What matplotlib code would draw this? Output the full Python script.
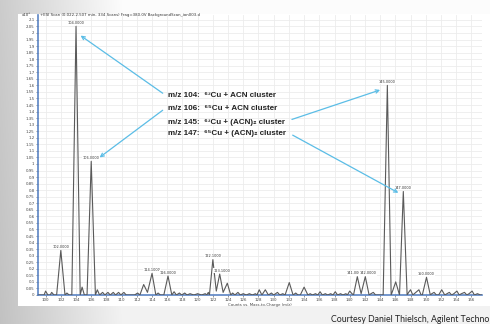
import numpy as np
import matplotlib
matplotlib.use("Agg")
import matplotlib.pyplot as plt
from matplotlib.patches import Rectangle

# ---- data (counts in units of 1e5) ----
mz = [99.0, 99.8, 100.0, 100.3, 100.6, 100.8, 101.1, 101.45, 102.0, 102.55,
      102.8, 103.1, 103.45, 104.0, 104.55, 104.8, 105.1, 105.45, 106.0, 106.55,
      106.8, 107.1, 107.5, 107.8, 108.2, 108.5, 108.9, 109.2, 109.6, 109.9,
      110.3, 110.6, 111.0, 111.7, 112.1, 112.4, 112.9, 113.4, 114.0, 114.5,
      114.8, 115.1, 115.55, 116.1, 116.6, 116.9, 117.2, 117.6, 117.9, 118.3,
      118.6, 119.0, 119.5, 120.0, 120.5, 121.0, 121.2, 121.4, 121.55, 122.0,
      122.45, 122.9, 123.35, 123.9, 124.35, 124.6, 124.9, 125.3, 125.6, 126.0,
      126.4, 126.8, 127.2, 127.6, 127.8, 128.1, 128.45, 128.9, 129.3, 129.7,
      130.0, 130.5, 130.8, 131.2, 131.5, 132.05, 132.55, 132.9, 133.2, 133.5,
      134.0, 134.5, 134.8, 135.1, 135.5, 135.8, 136.1, 136.4, 136.8, 137.1,
      137.5, 137.8, 138.1, 138.4, 138.8, 139.1, 139.5, 139.7, 140.0, 140.3,
      140.5, 141.0, 141.5, 142.05, 142.55, 142.8, 143.1, 143.4, 144.0, 144.4,
      144.95, 145.45, 145.7, 146.05, 146.35, 146.55, 147.05, 147.55, 147.75, 148.0,
      148.3, 148.7, 149.1, 149.4, 149.55, 150.1, 150.6, 150.8, 151.1, 151.4,
      151.7, 152.1, 152.5, 152.8, 153.1, 153.4, 153.7, 154.1, 154.4, 154.7,
      155.1, 155.4, 155.7, 156.1, 156.4, 156.8, 157.2, 157.4]
counts = [0.0, 0.0, 0.03, 0.0, 0.0, 0.02, 0.0, 0.0, 0.34, 0.0,
          0.015, 0.0, 0.0, 2.05, 0.0, 0.06, 0.0, 0.0, 1.02, 0.0,
          0.04, 0.0, 0.02, 0.0, 0.02, 0.0, 0.02, 0.0, 0.02, 0.0,
          0.02, 0.0, 0.0, 0.0, 0.015, 0.0, 0.08, 0.02, 0.165, 0.0,
          0.015, 0.0, 0.0, 0.145, 0.0, 0.025, 0.0, 0.015, 0.0, 0.015,
          0.0, 0.01, 0.0, 0.01, 0.0, 0.01, 0.0, 0.02, 0.0, 0.27,
          0.03, 0.16, 0.02, 0.09, 0.0, 0.015, 0.0, 0.02, 0.0, 0.01,
          0.0, 0.01, 0.0, 0.01, 0.0, 0.04, 0.0, 0.04, 0.0, 0.015,
          0.0, 0.02, 0.0, 0.01, 0.0, 0.095, 0.0, 0.015, 0.0, 0.0,
          0.06, 0.0, 0.01, 0.0, 0.01, 0.0, 0.025, 0.0, 0.01, 0.0,
          0.01, 0.0, 0.025, 0.0, 0.01, 0.0, 0.01, 0.0, 0.03, 0.01,
          0.0, 0.14, 0.01, 0.14, 0.0, 0.01, 0.02, 0.0, 0.0, 0.0,
          1.60, 0.0, 0.04, 0.10, 0.04, 0.0, 0.79, 0.0, 0.02, 0.04,
          0.0, 0.02, 0.04, 0.0, 0.0, 0.135, 0.0, 0.01, 0.02, 0.0,
          0.0, 0.04, 0.0, 0.01, 0.02, 0.0, 0.01, 0.03, 0.0, 0.01,
          0.02, 0.0, 0.01, 0.03, 0.0, 0.01, 0.0, 0.0]

peak_mz = [102.0, 104.0, 106.0, 114.0, 116.1, 122.0, 123.2, 140.75, 142.4, 144.95, 147.05, 150.1]
peak_h = [0.34, 2.05, 1.02, 0.165, 0.145, 0.27, 0.16, 0.14, 0.14, 1.60, 0.79, 0.135]
peak_txt = ["102.0000", "104.0000", "106.0000", "114.1000", "116.0000", "122.1000",
            "123.1000", "141.0000", "142.0000", "145.0000", "147.0000", "150.0000"]

notes = ["m/z 104:  \u2076\u00b3Cu + ACN cluster",
         "m/z 106:  \u2076\u2075Cu + ACN cluster",
         "m/z 145:  \u2076\u00b3Cu + (ACN)\u2082 cluster",
         "m/z 147:  \u2076\u2075Cu + (ACN)\u2082 cluster"]
note_y = [1.52, 1.42, 1.32, 1.23]
arrow_from = [(115.4, 1.54), (115.4, 1.41), (132.4, 1.34), (132.5, 1.22)]
arrow_to = [(104.6, 1.98), (107.1, 1.05), (144.0, 1.565), (146.4, 0.78)]

W, H = 490, 324
fig = plt.figure(figsize=(W / 100, H / 100), dpi=100)

# grey slide background with a white panel on it
bg = fig.add_axes([0, 0, 1, 1])
xx = np.linspace(0, 1, W)
yy = np.linspace(0, 1, H)[:, None]
shade = 0.80 + 0.19 * np.clip(xx / 0.25, 0, 1) - 0.04 * yy
bg.imshow(np.dstack([shade] * 3), extent=[0, 1, 0, 1], aspect="auto", zorder=0)
bg.add_patch(Rectangle((18 / W, 1 - 306 / H), (W - 18) / W, 292 / H,
                       facecolor="white", edgecolor="none", zorder=1))
bg.axis("off")
bg.set_xlim(0, 1)
bg.set_ylim(0, 1)

ax = fig.add_axes([38 / W, 1 - 295 / H, 444 / W, 280 / H])
ax.set_facecolor("white")
ax.plot(mz, counts, color="#5a5a5a", lw=0.8, zorder=3)
ax.set_xlim(99.0, 157.4)
ax.set_ylim(0, 2.137)

yt = np.round(np.arange(0, 2.11, 0.05), 2)
ax.set_xticks(np.arange(100, 157, 2))
ax.set_yticks(yt)
ax.set_yticklabels(["%g" % v for v in yt])
ax.tick_params(labelsize=2.8, length=1.5, width=0.4, pad=1, colors="#444444")
ax.grid(True, color="#ececec", lw=0.6)
ax.set_axisbelow(True)
for s in ["top", "right"]:
    ax.spines[s].set_visible(False)
for s in ["left", "bottom"]:
    ax.spines[s].set_color("#5b84c4")
    ax.spines[s].set_linewidth(1.2)
ax.set_xlabel("Counts vs. Mass-to-Charge (m/z)", fontsize=2.8, labelpad=0.5, color="#444444")

for x, h, t in zip(peak_mz, peak_h, peak_txt):
    ax.annotate(t, (x, h), xytext=(0, 1), textcoords="offset points",
                ha="center", va="bottom", fontsize=2.5, color="#333333",
                bbox=dict(boxstyle="square,pad=0.1", fc="white", ec="none"), zorder=4)

for t, y in zip(notes, note_y):
    ax.text(116.1, y, t, fontsize=5.8, fontweight="bold", va="center", ha="left",
            family=["Liberation Sans", "DejaVu Sans"], color="#222222", zorder=5)
for a, b in zip(arrow_from, arrow_to):
    ax.annotate("", xy=b, xytext=a,
                arrowprops=dict(arrowstyle="->", color="#5bbde6", lw=0.9,
                                mutation_scale=6, shrinkA=0, shrinkB=0), zorder=5)

fig.text(22 / W, 1 - 15 / H, "x10\u2075", fontsize=2.8, va="center", color="#333333")
fig.text(40 / W, 1 - 15 / H,
         "+ESI Scan (0.022-2.507 min, 334 Scans) Frag=380.0V BackgroundScan_ion003.d",
         fontsize=2.8, va="center", color="#333333")
fig.text(331 / W, 1 - 320 / H, "Courtesy Daniel Thielsch, Agilent Technologies",
         fontsize=6.3, family="Lato", va="center", color="#222222")

fig.savefig("out.png", dpi=100)
